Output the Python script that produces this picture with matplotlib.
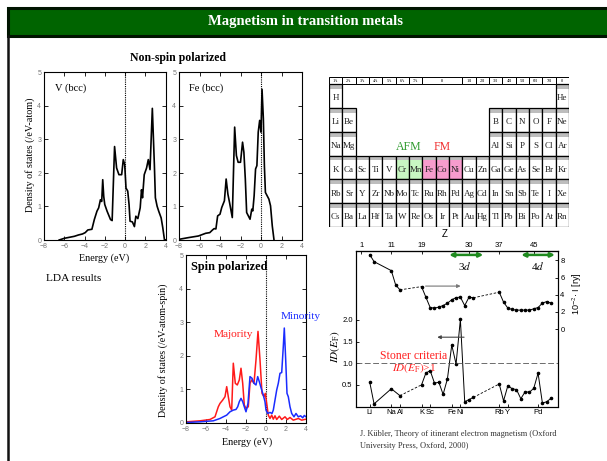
import numpy as np
import matplotlib
matplotlib.use("Agg")
import matplotlib.pyplot as plt
from matplotlib.patches import Rectangle

W, H = 607, 461
SERIF = "Liberation Serif"
SANS = "Liberation Sans"
plt.rcParams["font.family"] = SANS
plt.rcParams["mathtext.fontset"] = "stix"

# LDA density of states, non-spin polarized (states / eV-atom)
v_energy = [-6.5, -6.0, -5.5, -5.0, -4.6, -4.2, -3.93, -3.67, -3.27, -3.03,
            -2.77, -2.6, -2.43, -2.3, -2.2, -2.1, -2.0, -1.77, -1.43, -1.27,
            -1.03, -0.83, -0.6, -0.33, -0.17, -0.03, 0.1, 0.27, 0.4, 0.5,
            0.73, 0.93, 1.07, 1.27, 1.5, 1.63, 1.73, 1.9, 2.13, 2.3,
            2.47, 2.7, 2.9, 3.0, 3.17, 3.33, 3.57, 3.73, 3.9, 4.0]
v_dos = [0.0, 0.05, 0.08, 0.11, 0.15, 0.18, 0.22, 0.30, 0.32, 0.61,
         0.86, 0.96, 1.20, 1.15, 1.80, 1.30, 1.06, 0.86, 0.61, 0.58,
         2.79, 2.15, 1.95, 1.95, 2.40, 2.25, 1.55, 1.46, 1.06, 0.56,
         0.54, 0.40, 0.71, 0.64, 0.96, 1.50, 1.26, 1.95, 2.15, 2.40,
         2.10, 3.93, 2.25, 1.26, 1.01, 0.86, 0.66, 0.37, 0.0, 0.0]

fe_energy = [-8.0, -7.1, -6.1, -5.4, -5.0, -4.73, -4.57, -4.4, -4.23, -4.0,
             -3.83, -3.57, -3.4, -3.23, -3.07, -2.8, -2.57, -2.4, -2.23, -2.0,
             -1.8, -1.67, -1.53, -1.4, -1.07, -0.9, -0.8, -0.67, -0.53, -0.4,
             -0.27, -0.13, 0.0, 0.1, 0.23, 0.33, 0.43, 0.6, 0.77, 0.93,
             1.1, 1.27]
fe_dos = [0.02, 0.07, 0.12, 0.2, 0.22, 0.3, 0.34, 0.33, 0.72, 0.77,
          0.97, 1.17, 1.82, 1.37, 1.12, 0.67, 3.37, 2.52, 2.32, 2.32,
          2.92, 2.62, 1.82, 0.82, 0.62, 0.92, 0.87, 1.32, 2.12, 2.22,
          3.22, 3.57, 3.22, 4.50, 3.62, 2.22, 1.42, 1.32, 1.22, 1.02,
          0.42, 0.0]

# spin polarized bcc Fe (states / eV-atom-spin)
maj_energy = [-8.0, -6.6, -5.6, -5.1, -4.77, -4.6, -4.33, -4.1, -3.93, -3.77,
              -3.6, -3.43, -3.27, -3.07, -2.87, -2.67, -2.5, -2.33, -2.17, -2.0,
              -1.77, -1.6, -1.43, -1.2, -1.0, -0.8, -0.6, -0.4, -0.2, -0.07,
              0.07, 0.23, 0.4, 0.57, 0.73, 0.9, 1.07, 1.33, 1.57, 1.9,
              2.13, 2.4, 2.73, 3.23, 3.57, 4.0]
maj_dos = [0.02, 0.05, 0.09, 0.17, 0.47, 0.57, 0.67, 0.77, 1.07, 0.77,
           0.47, 0.37, 1.77, 1.17, 1.12, 1.27, 1.62, 1.17, 0.52, 0.42,
           0.47, 1.17, 1.27, 1.17, 1.87, 2.72, 1.87, 0.87, 0.77, 0.87,
           0.57, 0.22, 0.12, 0.22, 0.1, 0.2, 0.09, 0.19, 0.09, 0.17,
           0.09, 0.15, 0.07, 0.12, 0.07, 0.1]
min_energy = [-8.0, -6.6, -5.27, -4.6, -4.27, -3.93, -3.6, -3.27, -3.0, -2.83,
              -2.67, -2.5, -2.33, -2.17, -2.0, -1.8, -1.6, -1.4, -1.2, -1.0,
              -0.83, -0.67, -0.43, -0.27, -0.1, 0.0, 0.17, 0.4, 0.6, 0.73,
              0.9, 1.07, 1.23, 1.4, 1.57, 1.73, 1.83, 1.97, 2.1, 2.23,
              2.4, 2.57, 2.8, 3.0, 3.23, 3.47, 3.67, 3.83, 4.0]
min_dos = [0.0, 0.02, 0.05, 0.12, 0.17, 0.22, 0.32, 0.37, 0.39, 0.47,
           0.62, 0.72, 0.62, 0.47, 0.32, 0.57, 1.37, 1.32, 1.17, 1.12,
           1.37, 1.22, 0.97, 0.82, 0.62, 0.37, 0.27, 0.3, 0.27, 0.37,
           0.67, 0.97, 1.17, 1.47, 1.49, 2.27, 2.82, 1.87, 0.87, 0.77,
           0.47, 0.27, 0.17, 0.27, 0.17, 0.2, 0.14, 0.21, 0.17]

# Stoner product I*D(E_F) and exchange integral I (10^-2 Ry) versus Z
id_z = [3, 4, 11, 13,
        19, 20, 21, 22, 23, 24, 25, 26, 27, 28, 29, 30, 31,
        37, 38, 39, 40, 41, 42, 43, 44, 45, 46, 47, 48, 49]
id_val = [0.56, 0.06, 0.41, 0.25,
          0.50, 0.77, 0.83, 0.54, 0.56, 0.28, 0.64, 1.42, 0.98, 2.01, 0.11, 0.16, 0.21,
          0.52, 0.13, 0.48, 0.41, 0.39, 0.18, 0.34, 0.33, 0.42, 0.77, 0.08, 0.11, 0.19]
i_z = [3, 4, 11, 12, 13,
       19, 20, 21, 22, 23, 24, 25, 26, 27, 28, 29, 30, 31,
       37, 38, 39, 40, 41, 42, 43, 44, 45, 46, 47, 48, 49]
i_val = [8.67, 7.86, 6.81, 5.15, 4.57,
         4.95, 3.72, 2.51, 2.44, 2.56, 2.74, 3.02, 3.41, 3.67, 3.72, 2.74, 3.72, 3.64,
         4.30, 3.14, 2.44, 2.28, 2.21, 2.21, 2.21, 2.21, 2.36, 2.51, 3.02, 3.21, 3.02]
top_z = [1, 11, 19, 30, 37, 45]
elem_z = [3, 11, 13, 19, 21, 26, 28, 37, 39, 46]
elem_names = ["Li", "Na", "Al", "K", "Sc", "Fe", "Ni", "Rb", "Y", "Pd"]

# periodic table
groups = ["1A", "2A", "3A", "4A", "5A", "6A", "7A", "8", "1B", "2B", "3B", "4B",
          "5B", "6B", "7B", "0"]
table_rows = [
    ["H"] + [""] * 16 + ["He"],
    ["Li", "Be"] + [""] * 10 + ["B", "C", "N", "O", "F", "Ne"],
    ["Na", "Mg"] + [""] * 10 + ["Al", "Si", "P", "S", "Cl", "Ar"],
    ["K", "Ca", "Sc", "Ti", "V", "Cr", "Mn", "Fe", "Co", "Ni", "Cu", "Zn",
     "Ga", "Ge", "As", "Se", "Br", "Kr"],
    ["Rb", "Sr", "Y", "Zr", "Nb", "Mo", "Tc", "Ru", "Rh", "Pd", "Ag", "Cd",
     "In", "Sn", "Sb", "Te", "I", "Xe"],
    ["Cs", "Ba", "La", "Hf", "Ta", "W", "Re", "Os", "Ir", "Pt", "Au", "Hg",
     "Tl", "Pb", "Bi", "Po", "At", "Rn"],
]
afm = ["Cr", "Mn"]
fm = ["Fe", "Co", "Ni"]


def rect(x0, y0, x1, y1):
    return [x0 / W, 1 - y1 / H, (x1 - x0) / W, (y1 - y0) / H]


def slot(z):
    # the Z axis of the Stoner plot skips the light p-block and noble gases
    return np.interp(z, [1, 4, 11, 13, 19, 49], [0, 3, 7, 9, 14, 44])


fig = plt.figure(figsize=(W / 100, H / 100), dpi=100)


def dos_axes(box):
    ax = fig.add_axes(rect(*box))
    ax.set_xlim(-8, 4)
    ax.set_ylim(0, 5)
    ax.set_xticks(range(-8, 5, 2))
    ax.set_yticks(range(0, 6))
    ax.tick_params(direction="in", top=True, right=True, length=3, width=0.6,
                   labelsize=5, labelcolor="#777777")
    ax.tick_params(axis="x", pad=2.5)
    ax.tick_params(axis="y", pad=2)
    ax.axvline(0, color="black", ls=(0, (1, 1)), lw=0.8)
    for s in ax.spines.values():
        s.set_linewidth(0.8)
    return ax


ax_v = dos_axes((44, 72.5, 165.5, 240))
ax_v.plot(v_energy, v_dos, color="black", lw=1.2)
ax_fe = dos_axes((179, 72.5, 302, 240))
ax_fe.plot(fe_energy, fe_dos, color="black", lw=1.2)
ax_sp = dos_axes((186, 255, 306, 422.5))
ax_sp.plot(maj_energy, maj_dos, color="#ff1a1a", lw=1.1)
ax_sp.plot(min_energy, min_dos, color="#1a2cff", lw=1.1)

# periodic table with the magnetic 3d metals marked
pt = fig.add_axes(rect(329, 77, 569, 227))
pt.set_xlim(0, 18)
pt.set_ylim(6, -0.3)
pt.axis("off")
col = 0
for g in groups:
    span = 3 if g == "8" else 1
    pt.add_patch(Rectangle((col, -0.3), span, 0.3, fc="white", ec="black", lw=0.7))
    pt.text(col + span / 2, -0.15, g, fontsize=3.2, family=SERIF,
            ha="center", va="center")
    col += span
for r, row in enumerate(table_rows):
    for c, sym in enumerate(row):
        if not sym:
            continue
        fill = "#c8f7c2" if sym in afm else "#f79ccd" if sym in fm else "white"
        pt.add_patch(Rectangle((c, r), 1, 1, fc=fill, ec="none"))
        pt.add_patch(Rectangle((c, r), 1, 0.2, fc="#bdbdbd", ec="none"))
        pt.add_patch(Rectangle((c, r), 1, 1, fc="none", ec="black", lw=0.9))
        pt.text(c + 0.5, r + 0.6, sym, fontsize=6.5, family=SERIF, color="#222222",
                ha="center", va="center")
pt.text(6.0, 2.62, "AFM", fontsize=8.5, family=SERIF, color="#2e9a2e",
        ha="center", va="center")
pt.text(8.5, 2.62, "FM", fontsize=8.5, family=SERIF, color="#f03030",
        ha="center", va="center")

# Stoner criterion across the 3d and 4d series
kb = fig.add_axes(rect(355.5, 251, 557.5, 406.5))
kb.set_xlim(-1.3, 45.5)
kb.set_ylim(0, 3.59)
kr = kb.twinx()
kr.set_ylim(-9.03, 9.1)


def chain(ax, z, v):
    z = np.asarray(z)
    v = np.asarray(v)
    x = slot(z)
    for lo, hi in [(1, 13), (19, 31), (37, 49)]:
        m = (z >= lo) & (z <= hi)
        ax.plot(x[m], v[m], "-", color="black", lw=0.7, marker="o", ms=1.6)
    for a, b in [(13, 19), (31, 37)]:
        ia = np.where(z == a)[0][0]
        ib = np.where(z == b)[0][0]
        ax.plot([x[ia], x[ib]], [v[ia], v[ib]], ls=(0, (3, 2)), color="black", lw=0.6)


chain(kb, id_z, id_val)
chain(kr, i_z, i_val)
kb.axhline(1.0, color="#555555", ls=(0, (7, 3)), lw=0.6)

kb.set_yticks([0.5, 1.0, 1.5, 2.0])
kb.set_yticklabels(["0.5", "1.0", "1.5", "2.0"])
kb.set_xticks(slot(elem_z))
kb.set_xticklabels(elem_names)
kb.tick_params(direction="in", length=2.5, width=0.6, labelsize=5.5, pad=2)
top = kb.secondary_xaxis("top")
top.set_xticks(slot(top_z))
top.set_xticklabels([str(z) for z in top_z])
top.tick_params(direction="in", length=2.5, width=0.6, labelsize=5.5, pad=1.5)
kr.set_yticks([0, 2, 4, 6, 8])
kr.tick_params(direction="in", length=2.5, width=0.6, labelsize=5.5, pad=2)
for a in (kb, kr):
    for s in a.spines.values():
        s.set_linewidth(0.8)

kb.annotate("", xy=(23.7, 2.78), xytext=(14.3, 2.78),
            arrowprops=dict(arrowstyle="-|>", color="#777777", lw=0.8, mutation_scale=5))
kb.annotate("", xy=(17.0, 1.6), xytext=(24.5, 1.6),
            arrowprops=dict(arrowstyle="-|>", color="#444444", lw=0.8, mutation_scale=5))
for x0, x1 in [(20.4, 28.3), (37.1, 44.9)]:
    kb.annotate("", xy=(x1, 3.5), xytext=(x0, 3.5),
                arrowprops=dict(arrowstyle="<|-|>", color="#1f8a1f", lw=1.8,
                                mutation_scale=6, shrinkA=0, shrinkB=0))

# slide frame, title and free text, drawn in pixel coordinates on top
fg = fig.add_axes([0, 0, 1, 1], zorder=10)
fg.set_xlim(0, W)
fg.set_ylim(H, 0)
fg.axis("off")
fg.add_patch(Rectangle((8, 8), W, 28, fc="#006400", ec="#001400", lw=2.2))
fg.plot([8, 8], [36, H], color="#111111", lw=1.8)
fg.text(306, 22, "Magnetism in transition metals", color="white", fontsize=10.5,
        fontweight="bold", family=SERIF, ha="center", va="center")

fg.text(178, 58, "Non-spin polarized", fontsize=8.5, fontweight="bold",
        family=SERIF, ha="center", va="center")
fg.text(55, 88, "V (bcc)", fontsize=7.5, family=SERIF, va="center")
fg.text(189, 88, "Fe (bcc)", fontsize=7.5, family=SERIF, va="center")
fg.text(30, 155, "Density of states (/eV-atom)", fontsize=7.3, family=SERIF,
        rotation=90, ha="center", va="center")
fg.text(104, 258, "Energy (eV)", fontsize=7.3, family=SERIF, ha="center", va="center")
fg.text(74, 278, "LDA results", fontsize=8.2, family=SERIF, ha="center", va="center")
fg.text(191, 267, "Spin polarized", fontsize=8.8, fontweight="bold",
        family=SERIF, va="center")
fg.text(163, 350, "Density of states (/eV-atom-spin)", fontsize=7.2, family=SERIF,
        rotation=90, ha="center", va="center")
fg.text(247, 442, "Energy (eV)", fontsize=7.3, family=SERIF, ha="center", va="center")
fg.text(233, 334, "Majority", fontsize=8.2, family=SERIF, color="#ff1a1a",
        ha="center", va="center")
fg.text(301, 316, "Minority", fontsize=8.2, family=SERIF, color="#1a2cff",
        ha="center", va="center")
fg.text(445, 234, "Z", fontsize=7, ha="center", va="center")

fg.text(465, 266, "3$d$", fontsize=8, family=SERIF, ha="center", va="center")
fg.text(538, 266, "4$d$", fontsize=8, family=SERIF, ha="center", va="center")
fg.text(335, 347, "$ID(E_{\\rm F})$", fontsize=8, family=SERIF, rotation=90,
        ha="center", va="center")
fg.text(577, 294, "10$^{-2}$\u00b7 I [ry]", fontsize=6.5, rotation=90,
        ha="center", va="center")
fg.text(414, 356, "Stoner criteria", fontsize=8.5, family=SERIF, color="#ff2020",
        ha="center", va="center")
fg.text(414, 368, "$ID(E_{\\rm F})$>1", fontsize=8, family=SERIF, color="#ff2020",
        ha="center", va="center")
fg.text(360, 434, "J. K\u00fcbler, Theory of itinerant electron magnetism (Oxford",
        fontsize=6, family=SERIF, color="#333333", va="center")
fg.text(360, 446, "University Press, Oxford, 2000)", fontsize=6, family=SERIF,
        color="#333333", va="center")

fig.savefig("out.png", dpi=100)
